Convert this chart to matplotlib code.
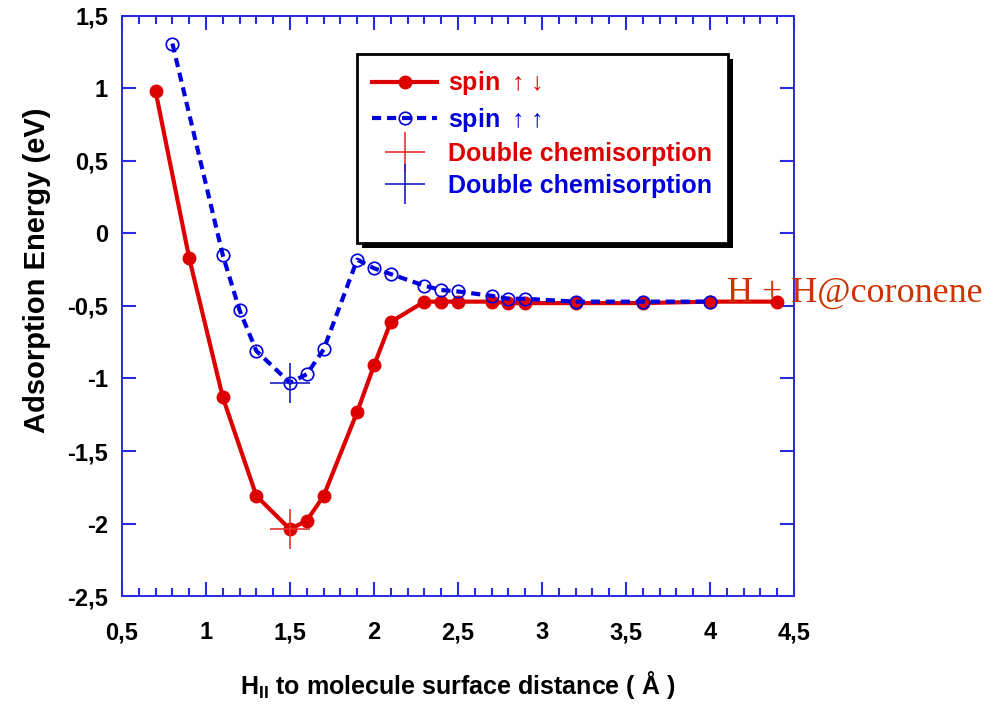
import matplotlib
matplotlib.use("Agg")
import matplotlib.pyplot as plt
from matplotlib.lines import Line2D
from matplotlib.patches import Rectangle
from matplotlib.ticker import FuncFormatter, MultipleLocator

# distance (Angstrom) and adsorption energy (eV)
x_anti = [0.7, 0.9, 1.1, 1.3, 1.5, 1.6, 1.7, 1.9, 2.0, 2.1, 2.3, 2.4, 2.5,
          2.7, 2.8, 2.9, 3.2, 3.6, 4.0, 4.4]
e_anti = [0.98, -0.17, -1.13, -1.81, -2.04, -1.98, -1.81, -1.23, -0.91, -0.61,
          -0.47, -0.47, -0.47, -0.47, -0.48, -0.48, -0.48, -0.48, -0.47, -0.47]

x_para = [0.8, 1.1, 1.2, 1.3, 1.5, 1.6, 1.7, 1.9, 2.0, 2.1, 2.3, 2.4, 2.5,
          2.7, 2.8, 2.9, 3.2, 3.6, 4.0]
e_para = [1.31, -0.15, -0.53, -0.81, -1.03, -0.97, -0.80, -0.18, -0.24, -0.28,
          -0.36, -0.39, -0.40, -0.43, -0.45, -0.45, -0.47, -0.47, -0.47]

double_x = [1.5, 1.5]
double_e = [-2.04, -1.03]

RED = "#dd0000"
BLUE = "#0000dd"
AXC = "#2a2ae0"

plt.rcParams["font.family"] = ["Liberation Sans", "DejaVu Sans"]
plt.rcParams["font.weight"] = "bold"
plt.rcParams["mathtext.fontset"] = "custom"
plt.rcParams["mathtext.bf"] = "Liberation Sans:bold"
plt.rcParams["mathtext.rm"] = "Liberation Sans:bold"

fig = plt.figure(figsize=(9.96, 7.04), dpi=100)
ax = fig.add_axes([0.1225, 0.1534, 0.6747, 0.8239])

ax.plot(x_anti, e_anti, color=RED, lw=3, marker="o", ms=9, zorder=3)
ax.plot(x_para, e_para, color=BLUE, lw=3, ls=(0, (2.2, 1.4)), marker="o", ms=9,
        mfc="none", mec=BLUE, mew=1.2, zorder=4)
ax.plot(double_x[0], double_e[0], marker="+", ms=29, mew=1.2, color="#e83030",
        ls="none", zorder=5)
ax.plot(double_x[1], double_e[1], marker="+", ms=29, mew=1.2, color="#1c1cc8",
        ls="none", zorder=5)

ax.set_xlim(0.5, 4.5)
ax.set_ylim(-2.5, 1.5)
ax.xaxis.set_major_locator(MultipleLocator(0.5))
ax.xaxis.set_minor_locator(MultipleLocator(0.1))
ax.yaxis.set_major_locator(MultipleLocator(0.5))

fmt = FuncFormatter(lambda v, p: ("%g" % round(v, 2)).replace(".", ","))
ax.xaxis.set_major_formatter(fmt)
ax.yaxis.set_major_formatter(fmt)

for s in ax.spines.values():
    s.set_color(AXC)
    s.set_linewidth(1.4)
ax.tick_params(which="major", direction="in", bottom=True, top=True, left=True,
               right=True, color=AXC, width=1.5, length=10, labelsize=17)
ax.tick_params(which="minor", direction="in", bottom=True, top=True, left=True,
               right=True, color=AXC, width=1.5, length=6)
ax.tick_params(axis="x", which="major", pad=18)
ax.tick_params(axis="y", which="major", pad=10)

ax.set_xlabel(r"$\mathbf{H_{II}}$ to molecule surface distance ( Å )",
              fontsize=18, fontweight="bold")
ax.xaxis.set_label_coords(0.5, -0.125)
ax.set_ylabel("Adsorption Energy (eV)", fontsize=21, fontweight="bold")
ax.yaxis.set_label_coords(-0.106, 0.562)

ax.text(4.1, -0.47, "H + H@coronene", family="Liberation Serif", fontsize=26,
        fontweight="normal", color="#cc3300", ha="left", va="baseline",
        clip_on=False, zorder=6)

handles = [
    Line2D([], [], color=RED, lw=3, marker="o", ms=9),
    Line2D([], [], color=BLUE, lw=3, ls=(0, (2.2, 1.4)), marker="o", ms=9,
           mfc="none", mec=BLUE, mew=1.2),
    Line2D([], [], color="#e83030", marker="+", ms=29, mew=1.2, ls="none"),
    Line2D([], [], color="#1c1cc8", marker="+", ms=29, mew=1.2, ls="none"),
]
labels = [r"spin $\uparrow\!\downarrow$", r"spin $\uparrow\!\uparrow$",
          "Double chemisorption", "Double chemisorption"]
leg = ax.legend(handles, labels, loc="upper left", bbox_to_anchor=(0.35, 0.934),
                prop={"weight": "bold", "size": 18}, frameon=False,
                handlelength=2.6, handletextpad=0.45, labelspacing=0.33,
                borderpad=0.6, borderaxespad=0)
for t, c in zip(leg.get_texts(), [RED, BLUE, RED, BLUE]):
    t.set_color(c)
leg.set_zorder(10)

# legend box with extra room at the bottom and a hard black shadow
fig.canvas.draw()
bb = leg.get_window_extent()
box_h = 189
frame = Rectangle((bb.x0, bb.y1 - box_h), 371, box_h,
                  transform=None, facecolor="white", edgecolor="black", lw=2,
                  zorder=9.5)
shadow = Rectangle((bb.x0 + 5, bb.y1 - box_h - 5), 371, box_h,
                   transform=None, facecolor="black", edgecolor="none", zorder=9)
ax.add_artist(shadow)
ax.add_artist(frame)

fig.savefig("out.png", dpi=100)
